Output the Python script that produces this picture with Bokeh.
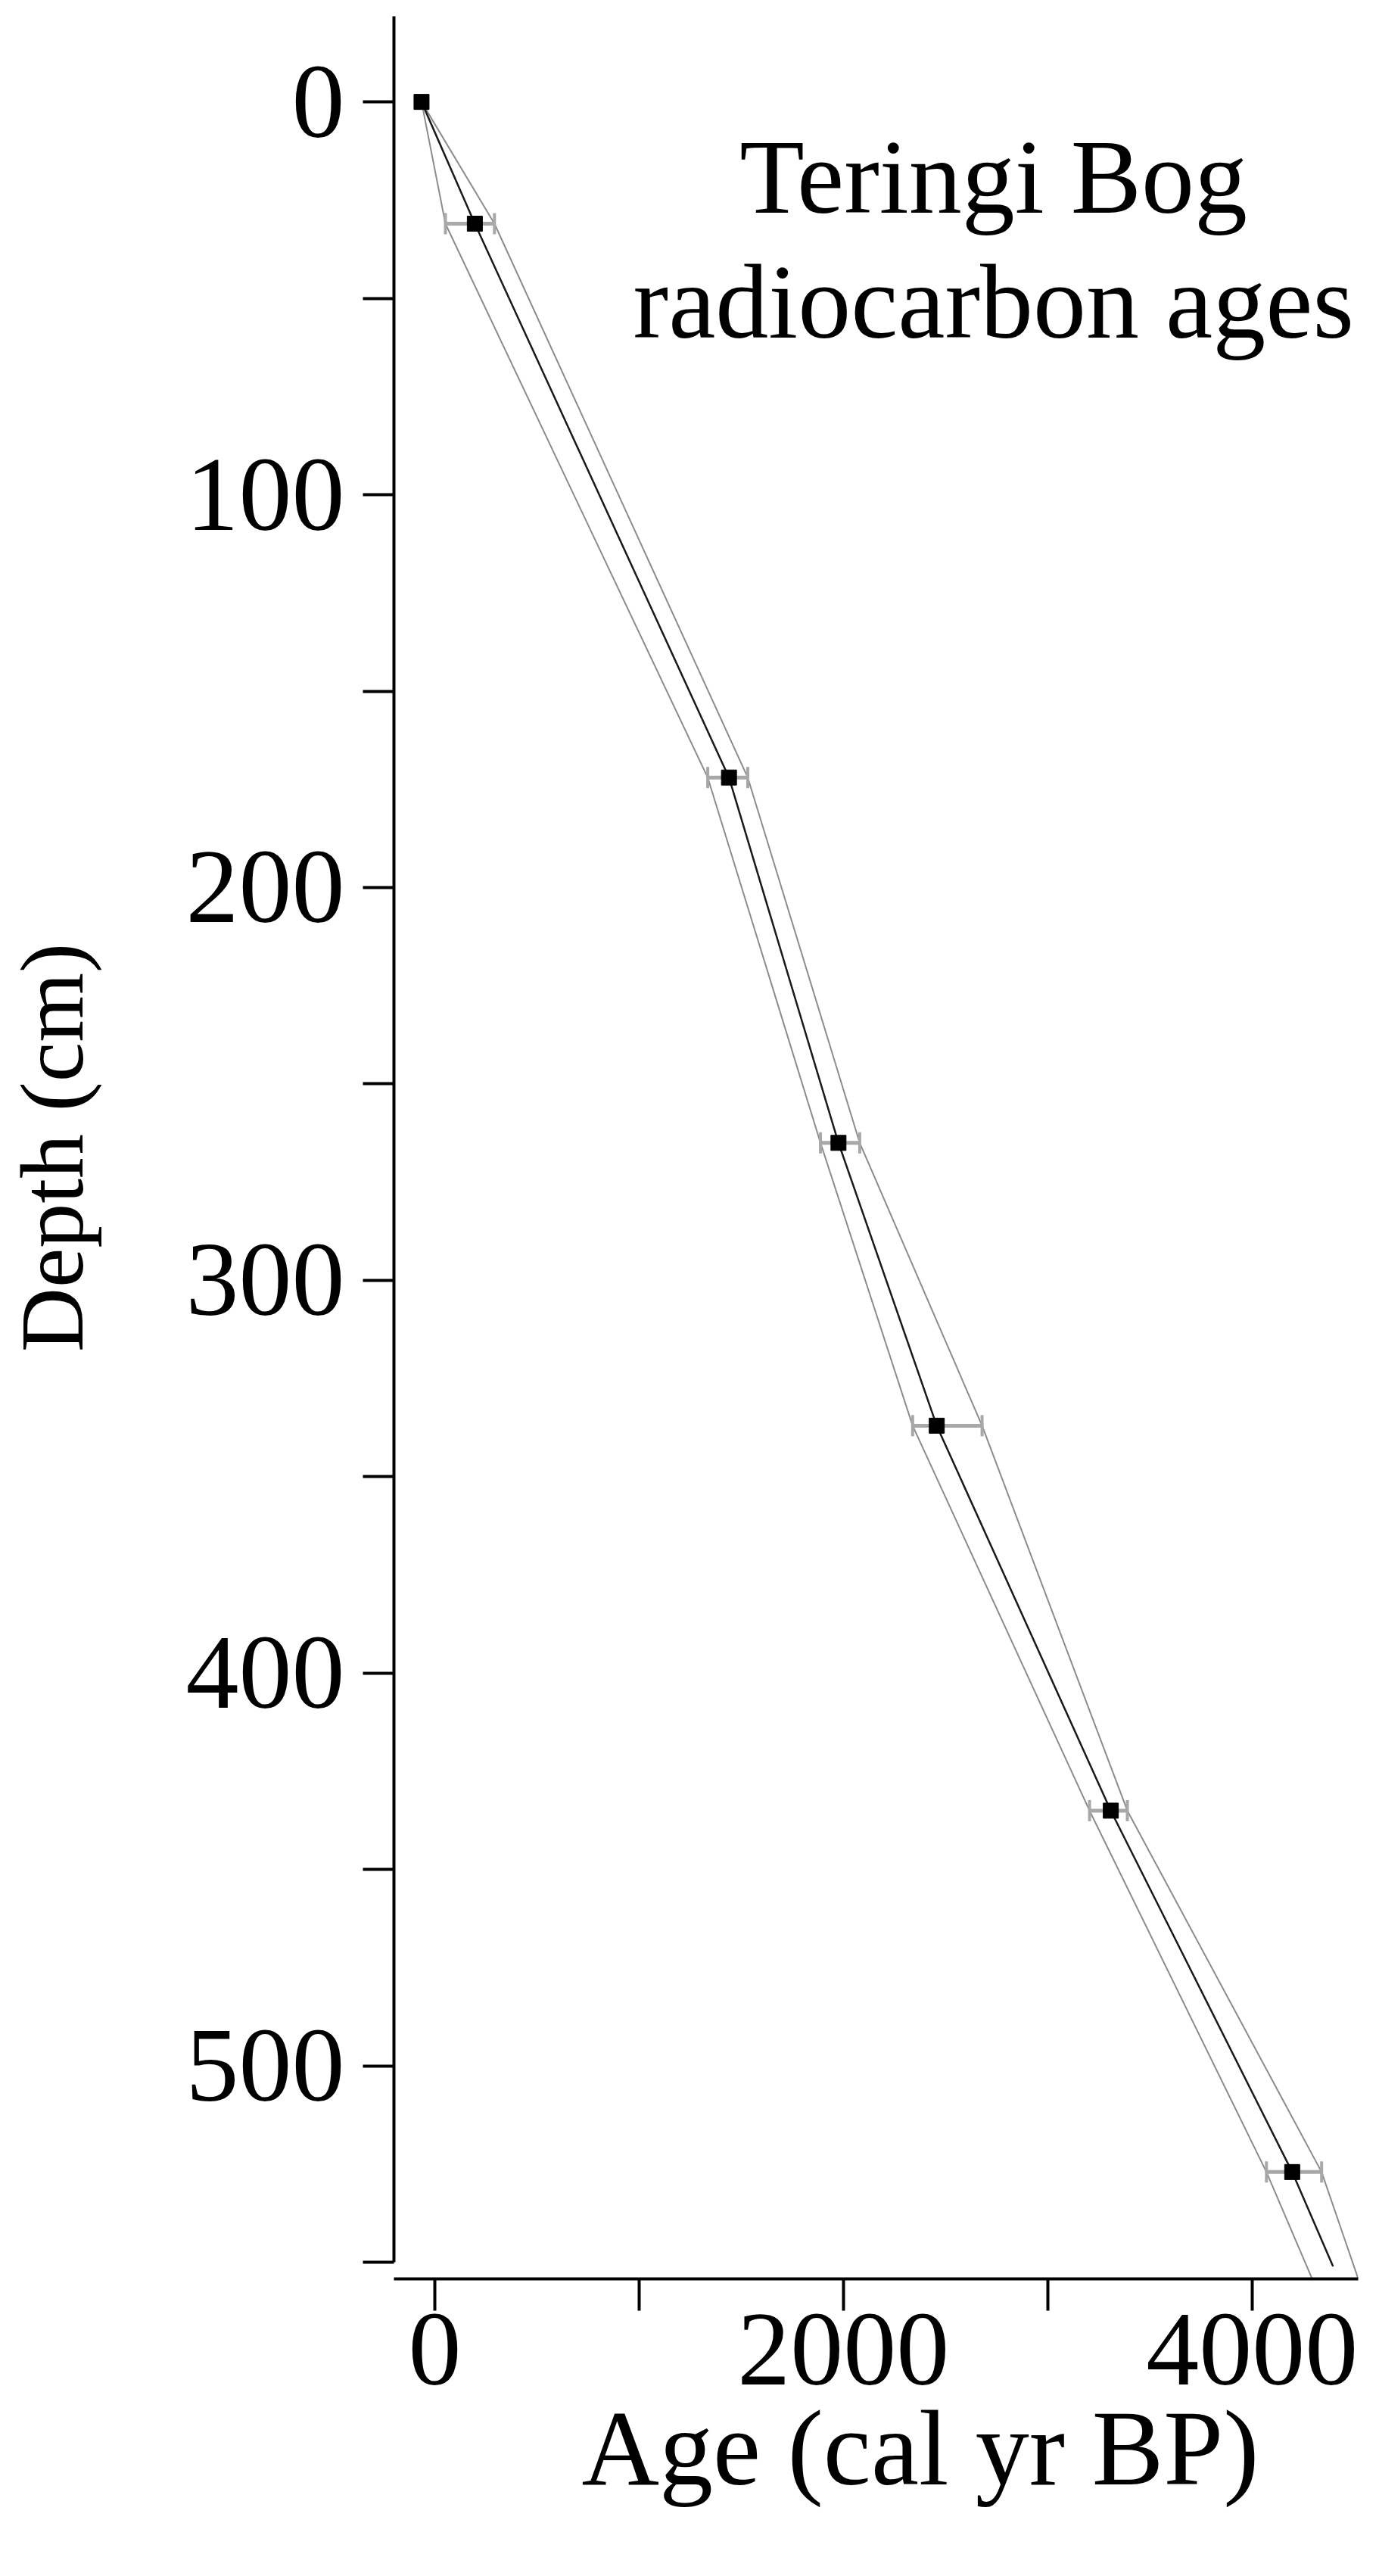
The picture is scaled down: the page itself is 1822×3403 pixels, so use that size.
import math
from bokeh.plotting import figure
from bokeh.models import Range1d, FixedTicker, Label, Title
from bokeh.embed import file_html
from bokeh.resources import INLINE

nan = float("nan")

# dated samples (depth in cm, calibrated age in cal yr BP)
depth = [0, 31, 172, 265, 337, 435, 527]
age = [-65, 196, 1440, 1976, 2457, 3309, 4197]
age_lo = [nan, 52, 1336, 1888, 2339, 3205, 4071]
age_hi = [nan, 292, 1532, 2080, 2679, 3390, 4341]

# age-depth model (best estimate and min/max envelope)
model_depth = [0, 31, 172, 265, 337, 435, 527, 551]
model_mid = [-65, 196, 1440, 1976, 2457, 3309, 4197, 4397]
bound_depth = [0, 31, 172, 265, 337, 435, 527, 554]
model_min = [-65, 52, 1336, 1888, 2339, 3205, 4071, 4293]
model_max = [-65, 292, 1532, 2080, 2679, 3390, 4341, 4519]

y_major = [0, 100, 200, 300, 400, 500]
y_minor = [50, 150, 250, 350, 450, 550]
x_major = [0, 2000, 4000]
x_minor = [1000, 3000]

FONT = "Liberation Serif"

p = figure(width=1806, height=3387,
           x_range=Range1d(-200, 4520), y_range=Range1d(554.2, -21.8),
           output_backend="svg", toolbar_location=None,
           min_border_left=519, min_border_right=12,
           min_border_top=21, min_border_bottom=377)
p.outline_line_color = None
p.xgrid.visible = False
p.ygrid.visible = False
p.background_fill_color = "white"
p.border_fill_color = "white"

# model lines
p.line(model_min, bound_depth, line_color="#8c8c8c", line_width=2)
p.line(model_max, bound_depth, line_color="#8c8c8c", line_width=2)
p.line(model_mid, model_depth, line_color="#1a1a1a", line_width=2.5)

# error bars
p.segment(x0=age_lo, y0=depth, x1=age_hi, y1=depth, line_color="#a8a8a8", line_width=5)
p.scatter(age_lo, depth, marker="dash", angle=math.pi / 2, size=28,
          line_color="#a8a8a8", line_width=4)
p.scatter(age_hi, depth, marker="dash", angle=math.pi / 2, size=28,
          line_color="#a8a8a8", line_width=4)

# sample points
p.scatter(age, depth, marker="square", size=20, fill_color="black", line_color="black")

# axes (ticks and tick labels)
for ax in (p.xaxis[0], p.yaxis[0]):
    ax.axis_line_width = 4
    ax.axis_line_color = "black"
    ax.major_tick_line_width = 4
    ax.minor_tick_line_width = 4
    ax.major_tick_line_color = "black"
    ax.minor_tick_line_color = "black"
    ax.major_tick_in = 0
    ax.minor_tick_in = 0
    ax.major_label_text_font = FONT
    ax.major_label_text_font_size = "140px"
    ax.major_label_text_color = "black"

xa = p.xaxis[0]
xa.ticker = FixedTicker(ticks=x_major, minor_ticks=x_minor)
xa.major_tick_out = 42
xa.minor_tick_out = 42
xa.major_label_standoff = 5

ya = p.yaxis[0]
ya.ticker = FixedTicker(ticks=y_major, minor_ticks=y_minor)
ya.bounds = (-21.8, 550)
ya.major_tick_out = 41
ya.minor_tick_out = 41
ya.major_label_standoff = 24
ya.axis_label = "Depth (cm)"
ya.axis_label_text_font = FONT
ya.axis_label_text_font_style = "normal"
ya.axis_label_text_font_size = "118px"
ya.axis_label_text_color = "black"
ya.axis_label_standoff = 108

# x-axis title, placed where the reference has it (right of centre)
p.add_layout(Title(text="Age (cal yr BP)", align="left", offset=248, standoff=0,
                   text_font=FONT, text_font_style="normal", text_font_size="142px",
                   text_color="black"), "below")

# in-plot title
p.add_layout(Label(x=2735, y=19.1, text="Teringi Bog", text_align="center",
                   text_baseline="alphabetic", text_font=FONT,
                   text_font_size="140px", text_color="black"))
p.add_layout(Label(x=2735, y=50.9, text="radiocarbon ages", text_align="center",
                   text_baseline="alphabetic", text_font=FONT,
                   text_font_size="140px", text_color="black"))

open("out.html", "w").write(file_html(p, INLINE))
